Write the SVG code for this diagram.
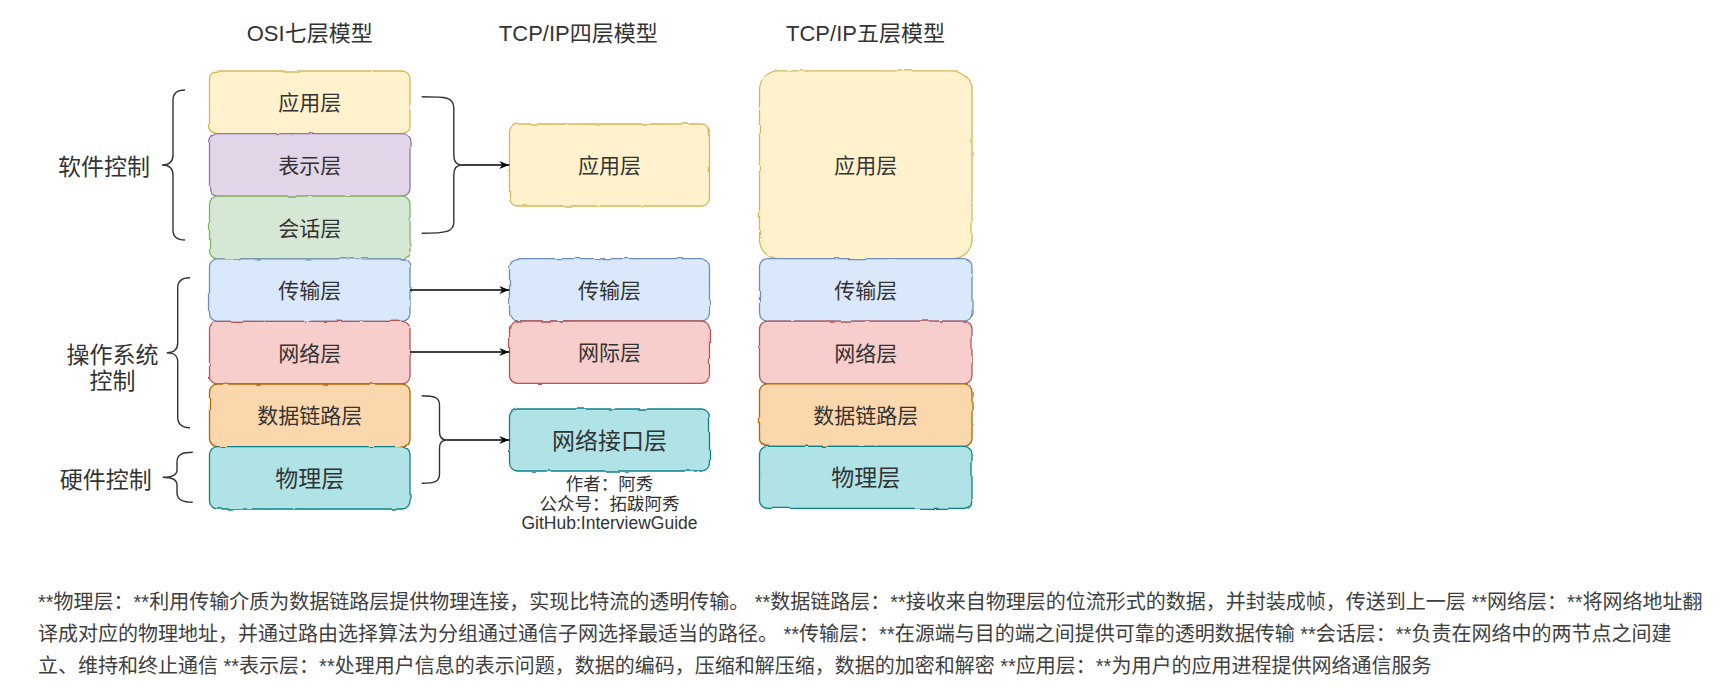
<svg xmlns="http://www.w3.org/2000/svg" width="1734" height="700" viewBox="0 0 1734 700">
<style>
text{font-family:'Liberation Sans','Noto Sans CJK SC',sans-serif;fill:#333;}
.t{font-size:22px;text-anchor:middle;}
.side{font-size:23px;text-anchor:middle;}
.lb{font-size:21px;text-anchor:middle;}
.lbb{font-size:23px;text-anchor:middle;}
.au{font-size:17.5px;text-anchor:middle;}
.para{font-size:20px;fill:#404040;}
.box{stroke-width:1.3;filter:url(#sk);}
.y{fill:#fff2cc;stroke:#d6b656;}
.p{fill:#e1d5e7;stroke:#9673a6;}
.g{fill:#d5e8d4;stroke:#82b366;}
.b{fill:#dae8fc;stroke:#6c8ebf;}
.r{fill:#f8cecc;stroke:#b85450;}
.o{fill:#fad7ac;stroke:#b46504;}
.c{fill:#b0e3e6;stroke:#0e8088;}
.brace{fill:none;stroke:#333;stroke-width:1.4;}
.arrow{fill:none;stroke:#000;stroke-width:1.3;marker-end:url(#arr);}
</style>
<defs>
<filter id="sk" x="-5%" y="-5%" width="110%" height="110%">
<feTurbulence type="fractalNoise" baseFrequency="0.06" numOctaves="2" seed="3" result="n"/>
<feDisplacementMap in="SourceGraphic" in2="n" scale="2.5" xChannelSelector="R" yChannelSelector="G"/>
</filter>
<marker id="arr" viewBox="0 0 10 8" refX="10" refY="4" markerWidth="10" markerHeight="8" markerUnits="userSpaceOnUse" orient="auto">
<path d="M0,0 L10,4 L0,8 L3,4 z" fill="#000"/>
</marker>
</defs>
<rect width="1734" height="700" fill="#fff"/>

<g id="titles">
<text class="t" x="309.7" y="41">OSI七层模型</text>
<text class="t" x="578.3" y="41">TCP/IP四层模型</text>
<text class="t" x="865.5" y="41">TCP/IP五层模型</text>
</g>

<g id="side-labels">
<text class="side" x="104" y="174.7">软件控制</text>
<text class="side" x="112.5" y="362.7">操作系统</text>
<text class="side" x="112.5" y="388.7">控制</text>
<text class="side" x="105.8" y="487.7">硬件控制</text>
</g>

<g id="brace-software"><path class="brace" d="M185,90 C177,90 173,93 173,100 L173,155 C173,162 169,165 162,165 C169,165 173,168 173,175 L173,230 C173,237 177,240 185,240"/></g>
<g id="brace-os"><path class="brace" d="M190,277.7 C182,277.7 177.7,281 177.7,288 L177.7,343 C177.7,350 174,352.7 166.7,352.7 C174,352.7 177.7,355 177.7,362 L177.7,417 C177.7,424 182,427.7 190,427.7"/></g>
<g id="brace-hw"><path class="brace" d="M192.7,452.3 C183,452.3 177,454 177,462 L177,470 C177,475 172,477.3 162.7,477.3 C172,477.3 177,480 177,485 L177,493 C177,500 183,502.3 192.7,502.3"/></g>
<g id="brace-upper"><path class="brace" d="M421.7,96.7 C446,96.7 453.8,97 453.8,108 L453.8,155 C453.8,162 457,165 462,165 C457,165 453.8,168 453.8,175 L453.8,222 C453.8,232 446,233.3 421.7,233.3"/></g>
<g id="brace-lower"><path class="brace" d="M421.7,395.7 C434,395.7 439.5,397 439.5,405 L439.5,432 C439.5,437 442,440 447,440 C442,440 439.5,443 439.5,448 L439.5,474 C439.5,482 434,483.3 421.7,483.3"/></g>

<g id="osi-app"><rect class="box y" x="209.5" y="71" width="200.5" height="62.6" rx="8"/><text class="lb" x="309.75" y="110.3">应用层</text></g>
<g id="osi-pres"><rect class="box p" x="209.5" y="133.6" width="200.5" height="62.6" rx="8"/><text class="lb" x="309.75" y="172.9">表示层</text></g>
<g id="osi-sess"><rect class="box g" x="209.5" y="196.2" width="200.5" height="62.6" rx="8"/><text class="lb" x="309.75" y="235.5">会话层</text></g>
<g id="osi-trans"><rect class="box b" x="209.5" y="258.8" width="200.5" height="62.6" rx="8"/><text class="lb" x="309.75" y="298.1">传输层</text></g>
<g id="osi-net"><rect class="box r" x="209.5" y="321.4" width="200.5" height="62.6" rx="8"/><text class="lb" x="309.75" y="360.7">网络层</text></g>
<g id="osi-link"><rect class="box o" x="209.5" y="384" width="200.5" height="62.6" rx="8"/><text class="lb" x="309.75" y="423.3">数据链路层</text></g>
<g id="osi-phy"><rect class="box c" x="209.5" y="446.6" width="200.5" height="62.4" rx="8"/><text class="lbb" x="309.75" y="486.6">物理层</text></g>

<g id="tcp4-app"><rect class="box y" x="509.5" y="124" width="200" height="82" rx="8"/><text class="lb" x="609.5" y="173">应用层</text></g>
<g id="tcp4-trans"><rect class="box b" x="509.5" y="258.6" width="200" height="62.4" rx="8"/><text class="lb" x="609.5" y="297.8">传输层</text></g>
<g id="tcp4-inet"><rect class="box r" x="509.5" y="321" width="200" height="62.4" rx="8"/><text class="lb" x="609.5" y="360.3">网际层</text></g>
<g id="tcp4-if"><rect class="box c" x="509.5" y="409" width="200" height="62" rx="8"/><text class="lbb" x="609.5" y="448.7">网络接口层</text></g>
<g id="author">
<text class="au" x="609.5" y="489.5">作者：阿秀</text>
<text class="au" x="609.5" y="509.5">公众号：拓跋阿秀</text>
<text class="au" x="609.5" y="528.5">GitHub:InterviewGuide</text>
</g>

<g id="tcp5-app"><rect class="box y" x="759.5" y="70.8" width="212.5" height="187.8" rx="19"/><text class="lb" x="865.75" y="172.7">应用层</text></g>
<g id="tcp5-trans"><rect class="box b" x="759.5" y="258.6" width="212.5" height="62.6" rx="8"/><text class="lb" x="865.75" y="297.9">传输层</text></g>
<g id="tcp5-net"><rect class="box r" x="759.5" y="321.2" width="212.5" height="62.6" rx="8"/><text class="lb" x="865.75" y="360.5">网络层</text></g>
<g id="tcp5-link"><rect class="box o" x="759.5" y="383.8" width="212.5" height="62.6" rx="8"/><text class="lb" x="865.75" y="423.1">数据链路层</text></g>
<g id="tcp5-phy"><rect class="box c" x="759.5" y="446.4" width="212.5" height="62" rx="8"/><text class="lbb" x="865.75" y="486.2">物理层</text></g>

<g id="connectors">
<path class="arrow" d="M462,165 L509.3,165"/>
<path class="arrow" d="M410,290 L509.3,290"/>
<path class="arrow" d="M410,352 L509.3,352"/>
<path class="arrow" d="M447,440 L509.3,440"/>
</g>

<g id="description">
<text class="para" x="38" y="609">**物理层：**利用传输介质为数据链路层提供物理连接，实现比特流的透明传输。 **数据链路层：**接收来自物理层的位流形式的数据，并封装成帧，传送到上一层 **网络层：**将网络地址翻</text>
<text class="para" x="38" y="641">译成对应的物理地址，并通过路由选择算法为分组通过通信子网选择最适当的路径。 **传输层：**在源端与目的端之间提供可靠的透明数据传输 **会话层：**负责在网络中的两节点之间建</text>
<text class="para" x="38" y="673">立、维持和终止通信 **表示层：**处理用户信息的表示问题，数据的编码，压缩和解压缩，数据的加密和解密 **应用层：**为用户的应用进程提供网络通信服务</text>
</g>
</svg>
